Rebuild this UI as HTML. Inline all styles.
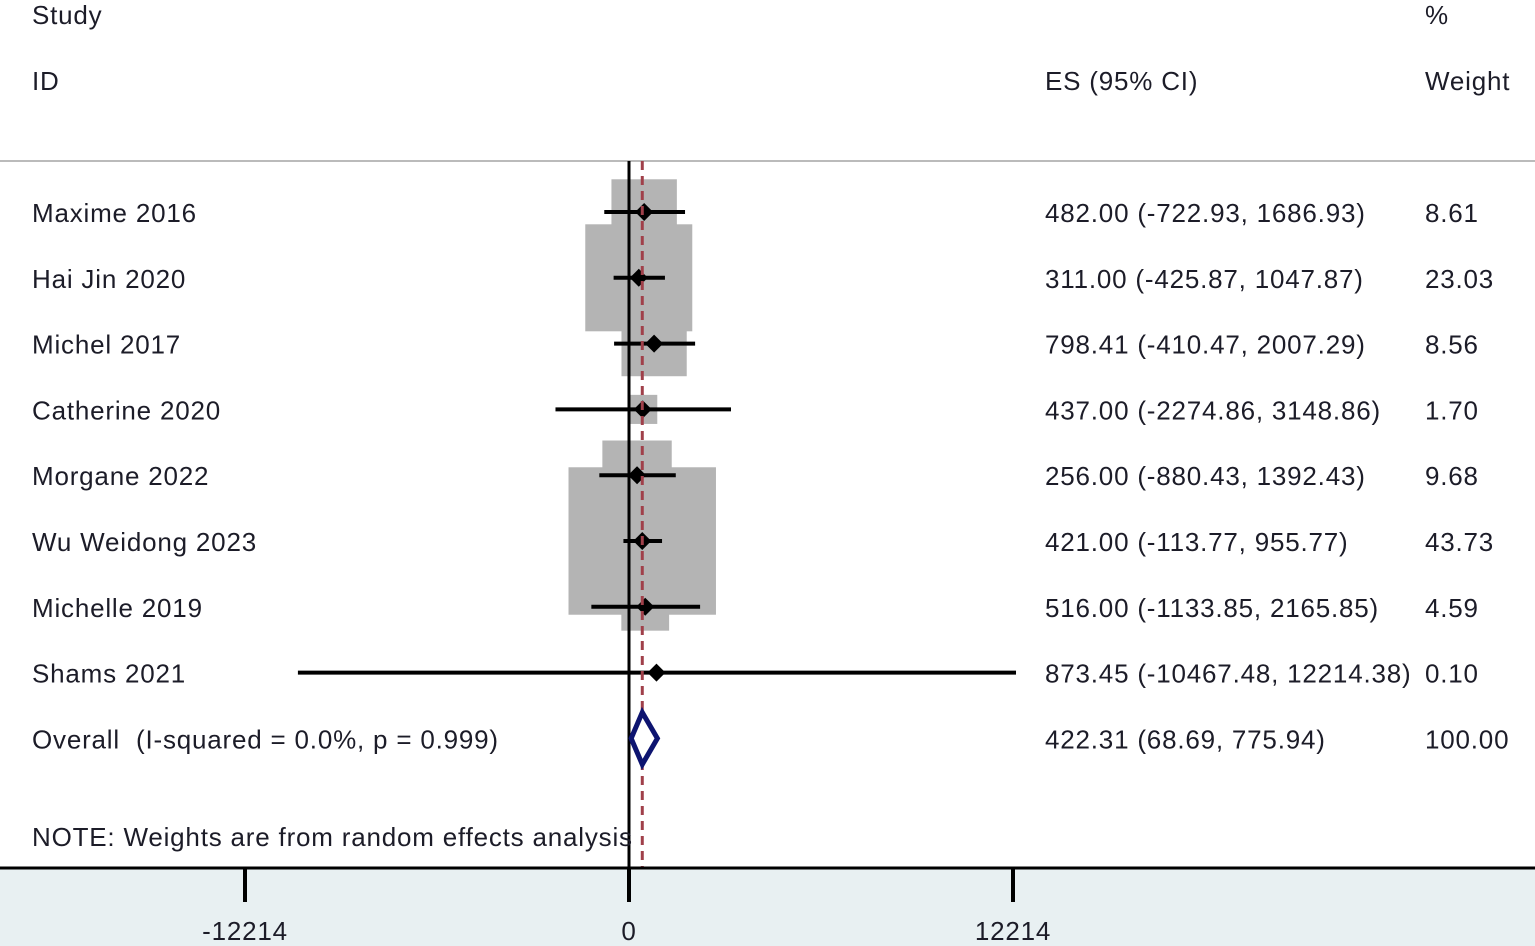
<!DOCTYPE html>
<html><head><meta charset="utf-8"><style>
html,body{margin:0;padding:0;background:#fff}
svg{display:block}
text{font-family:"Liberation Sans",Arial,sans-serif;font-size:26px;letter-spacing:0.8px;fill:#1c1c28;white-space:pre}
</style></head><body>
<svg id="chart" width="1535" height="946" viewBox="0 0 1535 946" xmlns="http://www.w3.org/2000/svg">
<rect x="0" y="868" width="1535" height="78" fill="#e8f0f2"/>
<line x1="0" y1="161" x2="1535" y2="161" stroke="#bbbbbb" stroke-width="2"/>
<text x="32" y="24">Study</text>
<text x="32" y="90">ID</text>
<text x="1045" y="90">ES (95% CI)</text>
<text x="1425" y="24">%</text>
<text x="1425" y="90">Weight</text>
<g id="boxes"></g>
<line x1="629" y1="161" x2="629" y2="868" stroke="#000" stroke-width="3"/>
<g id="marks"></g>
<text x="32" y="846">NOTE: Weights are from random effects analysis</text>
<line x1="0" y1="868" x2="1535" y2="868" stroke="#000" stroke-width="3"/>
<g id="axis"></g>
</svg>
<script>
const studies=["Maxime 2016","Hai Jin 2020","Michel 2017","Catherine 2020","Morgane 2022","Wu Weidong 2023","Michelle 2019","Shams 2021"];
const es=[482.00,311.00,798.41,437.00,256.00,421.00,516.00,873.45];
const lo=[-722.93,-425.87,-410.47,-2274.86,-880.43,-113.77,-1133.85,-10467.48];
const hi=[1686.93,1047.87,2007.29,3148.86,1392.43,955.77,2165.85,12214.38];
const weights=[8.61,23.03,8.56,1.70,9.68,43.73,4.59,0.10];
const overall=[422.31,68.69,775.94];
const overallLabel="Overall  (I-squared = 0.0%, p = 0.999)";
const ticks=[-12214,0,12214];
const NS="http://www.w3.org/2000/svg";
const xs=v=>629+v*(384/12214);
const ys=i=>212+i*65.8;
function mk(t,a,p){const e=document.createElementNS(NS,t);for(const k in a)e.setAttribute(k,a[k]);p.appendChild(e);return e;}
const boxes=document.getElementById('boxes'),marks=document.getElementById('marks'),axis=document.getElementById('axis'),svg=document.getElementById('chart');
const fmt=v=>v.toFixed(2);
studies.forEach((s,i)=>{
 const y=ys(i),side=22.3*Math.sqrt(weights[i]);
 const b=mk('rect',{x:xs(es[i])-side/2,y:y-side/2,width:side,height:side,fill:'#b4b4b4'},boxes);
 
 
 const l=mk('line',{x1:xs(lo[i])-2,x2:xs(hi[i])+3,y1:y,y2:y,stroke:'#000','stroke-width':4},marks);
 
 
 const c=xs(es[i]);
 const d=mk('polygon',{points:`${c-9},${y} ${c},${y-9} ${c+9},${y} ${c},${y+9}`,fill:'#000'},marks);
 
 
 const t1=mk('text',{x:32,y:y+10},svg);t1.textContent=s;
 
 
 const t2=mk('text',{x:1045,y:y+10},svg);t2.textContent=`${fmt(es[i])} (${fmt(lo[i])}, ${fmt(hi[i])})`;
 
 
 const t3=mk('text',{x:1425,y:y+10},svg);t3.textContent=fmt(weights[i]);
 
 
});
const oy=ys(8),oc=xs(overall[0]);
const dl=mk('line',{x1:oc,x2:oc,y1:161,y2:868,stroke:'#a0404a','stroke-width':3,'stroke-dasharray':'9,6'},marks);


const od=mk('polygon',{points:`${xs(overall[1])},${oy} ${oc},${oy-26} ${xs(overall[2])+4},${oy} ${oc},${oy+26}`,fill:'#fff',stroke:'#0d1470','stroke-width':5},marks);


const ot=mk('text',{x:32,y:oy+10},svg);ot.textContent=overallLabel;


const oe=mk('text',{x:1045,y:oy+10},svg);oe.textContent=`${fmt(overall[0])} (${fmt(overall[1])}, ${fmt(overall[2])})`;


const ow=mk('text',{x:1425,y:oy+10},svg);ow.textContent="100.00";


ticks.forEach(t=>{
 const x=xs(t);
 const tk=mk('line',{x1:x,x2:x,y1:868,y2:902,stroke:'#000','stroke-width':4},axis);
 
 
 const tl=mk('text',{x:x,y:940,'text-anchor':'middle'},axis);tl.textContent=String(t);
 
 
});
</script>
</body></html>
